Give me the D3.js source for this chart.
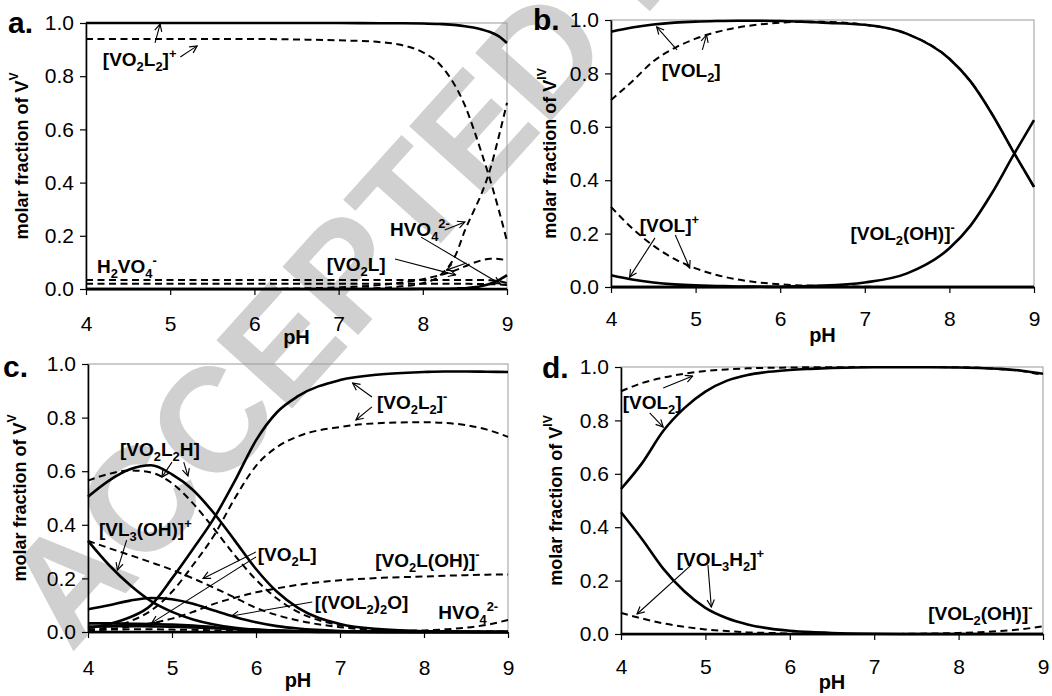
<!DOCTYPE html>
<html><head><meta charset="utf-8">
<script src="https://cdn.jsdelivr.net/npm/d3@7"></script>
<style>body{margin:0;background:#fff} svg{display:block} text{font-family:"Liberation Sans",Arial,sans-serif}</style>
</head><body><svg id="c" width="1052" height="696"></svg>
<script>
// ---------- data ----------
const xTicks = [4, 5, 6, 7, 8, 9];
const yTicks = [0, 0.2, 0.4, 0.6, 0.8, 1.0];
const phA = [4, 5, 6, 6.5, 7, 7.5, 7.75, 8, 8.2, 8.4, 8.5, 8.6, 8.7, 8.8, 8.9, 9];
const phG = [4, 4.25, 4.5, 4.75, 5, 5.25, 5.5, 5.75, 6, 6.25, 6.5, 7, 7.5, 8, 8.25, 8.5, 8.75, 9];

// panel a (V^V)
const a_VO2L2_solid = [1.0, 1.0, 1.0, 1.0, 1.0, 0.999, 0.999, 0.998, 0.996, 0.992, 0.988, 0.983, 0.976, 0.966, 0.951, 0.925];
const a_HVO4_solid  = [0, 0, 0, 0, 0, 0, 0, 0.001, 0.001, 0.002, 0.003, 0.006, 0.011, 0.02, 0.033, 0.052];
const a_zero_solid  = [0, 0, 0, 0, 0, 0, 0, 0, 0, 0, 0, 0, 0, 0, 0, 0];
const a_VO2L2_dash  = [0.94, 0.94, 0.94, 0.938, 0.935, 0.928, 0.917, 0.89, 0.845, 0.755, 0.69, 0.605, 0.51, 0.41, 0.3, 0.18];
const a_HVO4_dash   = [0, 0, 0, 0, 0.001, 0.004, 0.01, 0.022, 0.05, 0.135, 0.22, 0.29, 0.36, 0.45, 0.57, 0.7];
const a_VO2L_dash   = [0, 0, 0, 0.002, 0.006, 0.015, 0.024, 0.037, 0.052, 0.072, 0.085, 0.098, 0.108, 0.114, 0.113, 0.107];
const a_H2VO4_dash  = [0.034, 0.034, 0.034, 0.034, 0.034, 0.034, 0.034, 0.034, 0.034, 0.034, 0.034, 0.034, 0.034, 0.033, 0.03, 0.022];
const a_low_dash    = [0.02, 0.02, 0.02, 0.02, 0.02, 0.02, 0.02, 0.02, 0.02, 0.02, 0.02, 0.019, 0.019, 0.018, 0.017, 0.015];

// panel b (V^IV)
const b_VOL2_solid   = [0.956, 0.972, 0.983, 0.99, 0.994, 0.996, 0.997, 0.997, 0.996, 0.994, 0.99, 0.982, 0.948, 0.855, 0.77, 0.65, 0.51, 0.375];
const b_VOL2OH_solid = [0, 0, 0, 0, 0, 0, 0, 0.001, 0.001, 0.003, 0.005, 0.017, 0.051, 0.145, 0.23, 0.35, 0.49, 0.625];
const b_VOL_solid    = [0.044, 0.028, 0.017, 0.01, 0.006, 0.004, 0.002, 0.001, 0, 0, 0, 0, 0, 0, 0, 0, 0, 0];
const b_zero_solid   = [0, 0, 0, 0, 0, 0, 0, 0, 0, 0, 0, 0, 0, 0, 0, 0, 0, 0];
const b_VOL2_dash    = [0.70, 0.77, 0.845, 0.895, 0.93, 0.955, 0.972, 0.983, 0.99, 0.993, 0.993, 0.982, 0.948, 0.855, 0.77, 0.65, 0.51, 0.375];
const b_VOL_dash     = [0.30, 0.22, 0.155, 0.105, 0.07, 0.045, 0.028, 0.017, 0.01, 0.006, 0.004, 0.001, 0, 0, 0, 0, 0, 0];

// panel c (V^V)
const c_VO2L2_solid  = [0.015, 0.03, 0.055, 0.1, 0.2, 0.31, 0.425, 0.565, 0.715, 0.82, 0.88, 0.94, 0.962, 0.97, 0.972, 0.972, 0.971, 0.97];
const c_VO2L2H_solid = [0.505, 0.565, 0.607, 0.622, 0.588, 0.53, 0.443, 0.34, 0.235, 0.15, 0.09, 0.03, 0.01, 0.003, 0.002, 0.001, 0, 0];
const c_VL3OH_solid  = [0.34, 0.25, 0.175, 0.115, 0.075, 0.047, 0.028, 0.016, 0.009, 0.005, 0.002, 0, 0, 0, 0, 0, 0, 0];
const c_dimer_solid  = [0.085, 0.1, 0.117, 0.127, 0.122, 0.105, 0.08, 0.056, 0.036, 0.022, 0.013, 0.004, 0.001, 0, 0, 0, 0, 0];
const c_VO2L_solid   = [0.032, 0.032, 0.031, 0.03, 0.028, 0.024, 0.018, 0.012, 0.008, 0.005, 0.003, 0.001, 0, 0, 0, 0, 0, 0];
const c_other_solid  = [0.02, 0.021, 0.022, 0.021, 0.02, 0.017, 0.014, 0.01, 0.007, 0.004, 0.003, 0.001, 0, 0, 0, 0, 0, 0];
const c_zero_solid   = [0, 0, 0, 0, 0, 0, 0, 0, 0, 0, 0, 0, 0, 0, 0, 0, 0, 0];
const c_VO2L2_dash   = [0.008, 0.018, 0.04, 0.08, 0.15, 0.25, 0.36, 0.5, 0.62, 0.69, 0.73, 0.765, 0.78, 0.783, 0.78, 0.772, 0.755, 0.728];
const c_VO2L2H_dash  = [0.565, 0.59, 0.603, 0.595, 0.555, 0.48, 0.385, 0.285, 0.195, 0.125, 0.075, 0.025, 0.008, 0.003, 0.002, 0.002, 0.002, 0.002];
const c_VO2L_dash    = [0.34, 0.313, 0.287, 0.26, 0.232, 0.2, 0.165, 0.128, 0.09, 0.063, 0.043, 0.018, 0.006, 0.002, 0.001, 0, 0, 0];
const c_VO2LOH_dash  = [0.005, 0.01, 0.02, 0.033, 0.05, 0.075, 0.105, 0.128, 0.148, 0.163, 0.176, 0.193, 0.202, 0.207, 0.21, 0.212, 0.214, 0.215];
const c_HVO4_dash    = [0, 0, 0, 0, 0, 0, 0, 0, 0, 0, 0, 0.001, 0.003, 0.006, 0.01, 0.016, 0.027, 0.045];
const c_low_dash     = [0.008, 0.009, 0.01, 0.01, 0.009, 0.008, 0.006, 0.005, 0.003, 0.002, 0.001, 0, 0, 0, 0, 0, 0, 0];

// panel d (V^IV)
const d_VOL2_solid   = [0.543, 0.64, 0.76, 0.846, 0.908, 0.948, 0.97, 0.982, 0.989, 0.993, 0.996, 0.999, 0.999, 0.998, 0.996, 0.993, 0.986, 0.975];
const d_VOL3H2_solid = [0.456, 0.355, 0.245, 0.16, 0.098, 0.06, 0.036, 0.021, 0.012, 0.007, 0.004, 0.001, 0, 0, 0, 0, 0, 0];
const d_zero_solid   = [0, 0, 0, 0, 0, 0, 0, 0, 0, 0, 0, 0, 0, 0, 0, 0, 0, 0];
const d_VOL2_dash    = [0.909, 0.94, 0.96, 0.975, 0.985, 0.991, 0.995, 0.997, 0.998, 0.999, 0.999, 1, 1, 0.999, 0.997, 0.992, 0.985, 0.97];
const d_VOL3H2_dash  = [0.079, 0.058, 0.04, 0.027, 0.017, 0.011, 0.006, 0.004, 0.002, 0.001, 0.001, 0, 0, 0, 0, 0, 0, 0];
const d_VOL2OH_dash  = [0, 0, 0, 0, 0, 0, 0, 0, 0, 0, 0, 0, 0.001, 0.004, 0.007, 0.011, 0.018, 0.029];

// ---------- layout ----------
const panels = [
  { letter: "a.", lx: 8, ly: 33, x0: 86, x1: 507, top: 23, bottom: 289, pad: 21, ytx: 22, ytitle: "molar fraction of V^{V}",
    ph: phA,
    solid: [a_VO2L2_solid, a_HVO4_solid, a_zero_solid],
    dash: [a_VO2L2_dash, a_HVO4_dash, a_VO2L_dash, a_H2VO4_dash, a_low_dash],
    labels: [["[VO_{2}L_{2}]^{+}", 4.20, 0.838], ["H_{2}VO_{4}^{-}", 4.13, 0.06], ["[VO_{2}L]", 6.86, 0.068], ["HVO_{4}^{2-}", 7.61, 0.2]],
    arrows: [[4.82, 0.925, 4.88, 0.996], [5.12, 0.872, 5.32, 0.914], [8.26, 0.222, 8.50, 0.252], [7.98, 0.195, 8.92, 0.019], [7.67, 0.113, 8.39, 0.053], [8.52, 0.098, 8.28, 0.071]] },
  { letter: "b.", lx: 533, ly: 30, x0: 611, x1: 1034, top: 20, bottom: 287, pad: 18, ytx: 550, ytitle: "molar fraction of V^{IV}",
    ph: phG,
    solid: [b_VOL2_solid, b_VOL2OH_solid, b_VOL_solid, b_zero_solid],
    dash: [b_VOL2_dash, b_VOL_dash],
    labels: [["[VOL_{2}]", 4.60, 0.787], ["[VOL]^{+}", 4.34, 0.206], ["[VOL_{2}(OH)]^{-}", 6.83, 0.176]],
    arrows: [[4.78, 0.888, 4.54, 0.974], [5.08, 0.888, 5.13, 0.944], [4.52, 0.184, 4.22, 0.037], [4.76, 0.195, 4.93, 0.071]] },
  { letter: "c.", lx: 3, ly: 377, x0: 88, x1: 508, top: 364, bottom: 632, pad: 22, ytx: 20, ytitle: "molar fraction of V^{V}",
    ph: phG,
    solid: [c_VO2L2_solid, c_VO2L2H_solid, c_VL3OH_solid, c_dimer_solid, c_VO2L_solid, c_other_solid, c_zero_solid],
    dash: [c_VO2L2_dash, c_VO2L2H_dash, c_VO2L_dash, c_VO2LOH_dash, c_HVO4_dash, c_low_dash],
    labels: [["[VO_{2}L_{2}]^{-}", 7.44, 0.832], ["[VO_{2}L_{2}H]", 4.38, 0.657], ["[VL_{3}(OH)]^{+}", 4.13, 0.358], ["[VO_{2}L]", 6.02, 0.265],
             ["[VO_{2}L(OH)]^{-}", 7.42, 0.243], ["[(VOL_{2})_{2}O]", 6.70, 0.086], ["HVO_{4}^{2-}", 8.17, 0.049]],
    arrows: [[7.38, 0.877, 7.15, 0.929], [7.38, 0.84, 7.19, 0.791], [5.0, 0.634, 4.88, 0.578], [5.14, 0.634, 5.19, 0.582], [4.46, 0.343, 4.35, 0.231],
             [6.0, 0.299, 5.37, 0.2], [6.0, 0.28, 4.76, 0.034], [6.67, 0.112, 5.71, 0.06]] },
  { letter: "d.", lx: 542, ly: 378, x0: 621, x1: 1043, top: 367, bottom: 634, pad: 19, ytx: 556, ytitle: "molar fraction of V^{IV}",
    ph: phG,
    solid: [d_VOL2_solid, d_VOL3H2_solid, d_zero_solid],
    dash: [d_VOL2_dash, d_VOL3H2_dash, d_VOL2OH_dash],
    labels: [["[VOL_{2}]", 4.02, 0.843], ["[VOL_{3}H_{2}]^{+}", 4.66, 0.255], ["[VOL_{2}(OH)]^{-}", 7.64, 0.052]],
    arrows: [[4.50, 0.921, 4.85, 0.966], [4.34, 0.828, 4.50, 0.775], [4.83, 0.258, 4.19, 0.075], [5.03, 0.258, 5.07, 0.101]] }
];

// ---------- drawing ----------
const svg = d3.select("#c");
const defs = svg.append("defs");
defs.append("marker").attr("id", "ah").attr("viewBox", "0 0 10 10").attr("refX", 9).attr("refY", 5)
  .attr("markerWidth", 9).attr("markerHeight", 9).attr("markerUnits", "userSpaceOnUse").attr("orient", "auto")
  .append("path").attr("d", "M1,1 L9,5 L1,9").attr("fill", "none").attr("stroke", "#000").attr("stroke-width", 1.3);

// watermark (behind the charts)
svg.append("text").attr("transform", "translate(71,654) rotate(-48)")
  .attr("font-size", 148).attr("font-weight", "bold").attr("fill", "#d0d0d0")
  .text("ACCEPTED M");

function rich(sel, str, size) {
  const re = /([_^])\{([^}]*)\}|([^_^]+)/g;
  let m, cur = 0;
  while ((m = re.exec(str))) {
    let o, txt, fs;
    if (m[3]) { o = 0; txt = m[3]; fs = size; }
    else { o = m[1] === "_" ? 0.25 * size : -0.42 * size; txt = m[2]; fs = size * 0.68; }
    const t = sel.append("tspan").attr("font-size", fs).text(txt);
    if (o !== cur) t.attr("dy", o - cur);
    cur = o;
  }
}

panels.forEach(p => {
  const x = d3.scaleLinear().domain([4, 9]).range([p.x0, p.x1]);
  const y = d3.scaleLinear().domain([0, 1]).range([p.bottom, p.top]);
  const g = svg.append("g");

  g.append("rect").attr("x", p.x0).attr("y", p.top).attr("width", p.x1 - p.x0).attr("height", p.bottom - p.top)
    .attr("fill", "none").attr("stroke", "#9a9a9a").attr("stroke-width", 1);

  const line = d3.line().x(d => x(d[0])).y(d => y(d[1])).curve(d3.curveMonotoneX);
  p.dash.forEach(s => {
    g.append("path").attr("d", line(p.ph.map((v, i) => [v, s[i]])))
      .attr("fill", "none").attr("stroke", "#000").attr("stroke-width", 2).attr("stroke-dasharray", "7,4.5");
  });
  p.solid.forEach(s => {
    g.append("path").attr("d", line(p.ph.map((v, i) => [v, s[i]])))
      .attr("fill", "none").attr("stroke", "#000").attr("stroke-width", 2.6);
  });

  const ax = g.append("g").attr("transform", `translate(0,${p.bottom})`)
    .call(d3.axisBottom(x).tickValues(xTicks).tickFormat(d3.format("d")).tickSize(6).tickSizeOuter(0).tickPadding(p.pad));
  const ay = g.append("g").attr("transform", `translate(${p.x0},0)`)
    .call(d3.axisLeft(y).tickValues(yTicks).tickFormat(d3.format(".1f")).tickSize(6).tickSizeOuter(0).tickPadding(6));
  [ax, ay].forEach(a => {
    a.select(".domain").attr("stroke", "#000").attr("stroke-width", 1.6);
    a.selectAll(".tick line").attr("stroke", "#000").attr("stroke-width", 1.2);
    a.selectAll(".tick text").attr("font-size", 21).attr("fill", "#000").attr("font-family", "Liberation Sans, Arial, sans-serif");
  });

  g.append("text").attr("x", (p.x0 + p.x1) / 2).attr("y", p.bottom + 55).attr("text-anchor", "middle")
    .attr("font-size", 20).attr("font-weight", "bold").text("pH");

  const yt = g.append("text").attr("transform", `translate(${p.ytx},${(p.top + p.bottom) / 2}) rotate(-90)`)
    .attr("text-anchor", "middle").attr("dominant-baseline", "central").attr("font-weight", "bold");
  rich(yt, p.ytitle, 18);

  g.append("text").attr("x", p.lx).attr("y", p.ly).attr("font-size", 30).attr("font-weight", "bold").text(p.letter);

  p.arrows.forEach(a => {
    g.append("line").attr("x1", x(a[0])).attr("y1", y(a[1])).attr("x2", x(a[2])).attr("y2", y(a[3]))
      .attr("stroke", "#000").attr("stroke-width", 1.1).attr("marker-end", "url(#ah)");
  });
  p.labels.forEach(l => {
    const t = g.append("text").attr("x", x(l[1])).attr("y", y(l[2])).attr("font-weight", "bold");
    rich(t, l[0], 19);
  });
});
</script></body></html>
